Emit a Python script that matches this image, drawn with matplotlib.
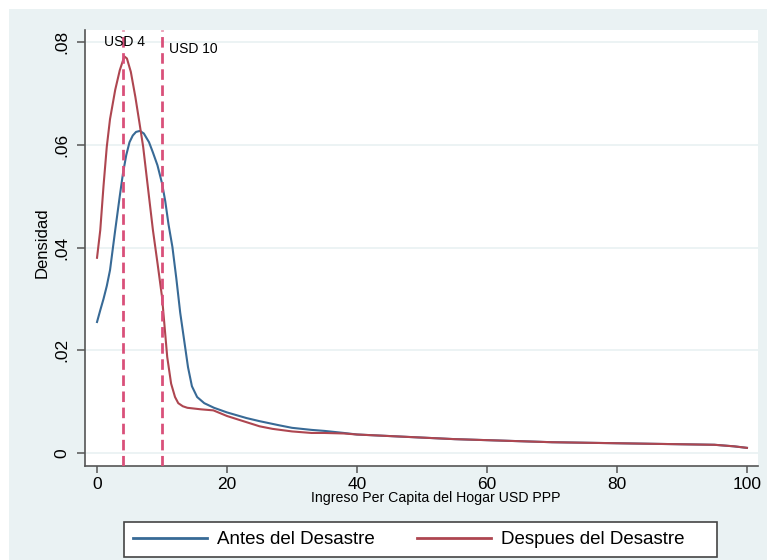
import matplotlib
matplotlib.use("Agg")
import matplotlib.pyplot as plt
from matplotlib.patches import Rectangle
from matplotlib.lines import Line2D

plt.rcParams['font.family'] = ['Liberation Sans', 'DejaVu Sans']

# ---- data ----
x_antes = [0, 0.5, 1, 1.5, 2, 2.8, 3.5, 4, 4.5, 5, 5.5, 6, 6.6, 7.2, 8, 8.6, 9.3, 10,
           10.5, 11, 11.6, 12.2, 12.8, 13.4, 14, 14.6, 15.4, 16.5, 18, 20, 23, 25, 28,
           30, 33, 35, 38, 40, 45, 50, 55, 60, 65, 70, 75, 80, 85, 90, 95, 98, 100]
y_antes = [.0255, .0278, .0300, .0325, .0356, .0434, .0500, .0545, .0580, .0605, .0618,
           .0625, .0627, .0622, .0605, .0585, .0560, .0525, .0490, .0445, .0401, .0340,
           .0273, .0220, .0167, .0130, .0109, .0097, .0088, .0079, .0068, .0062, .0054,
           .0049, .0045, .0043, .0039, .0036, .0033, .0030, .0027, .0025, .0023, .0021,
           .0020, .0019, .0018, .0017, .0016, .0013, .0010]

x_despues = [0, 0.5, 1, 1.5, 2, 2.8, 3.5, 4.2, 4.6, 5.2, 5.9, 6.5, 7.1, 7.7, 8.6, 9.3, 10,
             10.8, 11.4, 12, 12.5, 13.2, 13.9, 16, 17.9, 20, 21, 23, 25, 27, 30, 33, 35,
             38, 40, 45, 50, 55, 60, 65, 70, 75, 80, 85, 90, 95, 98, 100]
y_despues = [.0380, .0434, .0520, .0596, .0650, .0707, .0745, .0772, .0768, .0742, .0693,
             .0645, .0596, .0531, .0434, .0370, .0304, .0187, .0135, .0109, .0097, .0091,
             .0088, .0085, .0083, .0072, .0068, .0060, .0052, .0047, .0042, .0039, .0039,
             .0038, .0036, .0033, .0030, .0027, .0025, .0023, .0021, .0020, .0019, .0018,
             .0017, .0016, .0013, .0010]

thresholds = [4, 10]
threshold_labels = ["USD 4", "USD 10"]
series_labels = ["Antes del Desastre", "Despues del Desastre"]
x_ticks = [0, 20, 40, 60, 80, 100]
y_ticks = [0, 0.02, 0.04, 0.06, 0.08]
y_ticklabels = ["0", ".02", ".04", ".06", ".08"]

# ---- figure ----
W, H = 767, 560
fig = plt.figure(figsize=(W / 100, H / 100), dpi=100)
fig.patch.set_facecolor('white')
bg = '#EAF2F3'
fig.patches.append(Rectangle((9 / W, 0), 1 - 9 / W, 1 - 9 / H, transform=fig.transFigure,
                             facecolor=bg, edgecolor='none', zorder=-5))

L, R, T, B = 85, 758, 30, 466
ax = fig.add_axes([L / W, 1 - B / H, (R - L) / W, (B - T) / H])
ax.set_zorder(1)
ax.set_facecolor('white')

blue = '#386A96'
red = '#AE4650'
vcol = '#D9507A'

for yt in y_ticks:
    ax.axhline(yt, color=bg, lw=1.3, zorder=0)

ax.plot(x_antes, y_antes, color=blue, lw=1.5, zorder=3)
ax.plot(x_despues, y_despues, color=red, lw=1.5, zorder=3)

for xv in thresholds:
    ax.axvline(xv, color=vcol, lw=2.0, linestyle=(0, (3.8, 2.0)), zorder=4)

ax.text(1.1, 0.0800, threshold_labels[0], fontsize=10, va='center', ha='left', zorder=5)
ax.text(11.1, 0.0787, threshold_labels[1], fontsize=10, va='center', ha='left', zorder=5)

ax.set_xlim(-1.85, 101.7)
ax.set_ylim(-0.00253, 0.08234)
ax.set_xticks(x_ticks)
ax.set_xticklabels([str(v) for v in x_ticks])
ax.set_yticks(y_ticks)
ax.set_yticklabels(y_ticklabels)

for s in ['top', 'right']:
    ax.spines[s].set_visible(False)
for s in ['left', 'bottom']:
    ax.spines[s].set_color('#555555')
    ax.spines[s].set_linewidth(1.2)

ax.tick_params(axis='x', length=5, width=1.1, color='#555555', labelsize=12.5, pad=3)
ax.tick_params(axis='y', length=6, width=1.1, color='#555555', labelsize=12.5, pad=5,
               labelrotation=90)
for lab in ax.get_yticklabels():
    lab.set_va('center')

fig.text(42 / W, 1 - 243 / H, "Densidad", rotation=90, ha='center', va='center', fontsize=12)
fig.text(436 / W, 1 - 498 / H, "Ingreso Per Capita del Hogar USD PPP", ha='center',
         va='center', fontsize=10.2)

# legend box
fig.patches.append(Rectangle((124 / W, 1 - 557 / H), (717 - 124) / W, 35 / H,
                             transform=fig.transFigure, facecolor='white',
                             edgecolor='#444444', lw=1.2, zorder=2))
handles = [Line2D([], [], color=blue, lw=2.0), Line2D([], [], color=red, lw=2.0)]
fs = 13.5
fig.legend(handles, series_labels, loc='center left', ncol=2, frameon=False,
           bbox_to_anchor=(133 / W, 1 - 539.5 / H), fontsize=fs, borderpad=0,
           borderaxespad=0, handlelength=3.95, handletextpad=0.53, columnspacing=2.24)

fig.savefig('out.png', dpi=100, facecolor=fig.get_facecolor())
